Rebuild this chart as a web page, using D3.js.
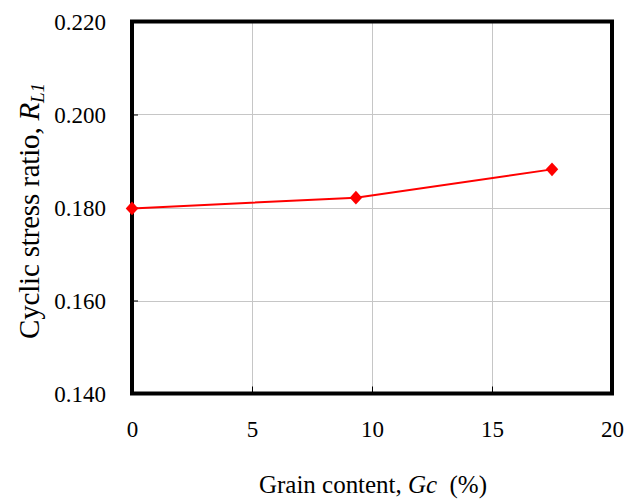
<!DOCTYPE html>
<html>
<head>
<meta charset="utf-8">
<script src="https://cdn.jsdelivr.net/npm/d3@7"></script>
<style>
  html, body { margin: 0; padding: 0; background: #fff; }
  svg { display: block; font-family: "Liberation Serif", "Times New Roman", serif; }
</style>
</head>
<body>
<svg id="chart" width="636" height="499"></svg>
<script>
// Grain content (%) against cyclic stress ratio R_L1
const grainContent = [0, 9.33, 17.5];
const stressRatio = [0.1798, 0.1821, 0.1882];
const xTicks = [0, 5, 10, 15, 20];
const yTicks = [0.140, 0.160, 0.180, 0.200, 0.220];

const svg = d3.select("#chart");
const plot = { left: 132, right: 612, top: 21.5, bottom: 393.5 };
const serif = "'Liberation Serif', 'Times New Roman', serif";

const x = d3.scaleLinear().domain([0, 20]).range([plot.left, plot.right]);
const y = d3.scaleLinear().domain([0.140, 0.220]).range([plot.bottom, plot.top]);

// grid lines
const grid = svg.append("g").attr("stroke", "#c6c6c6").attr("stroke-width", 1);
grid.selectAll(".gx").data(xTicks.slice(1, -1)).join("line")
  .attr("x1", d => Math.round(x(d)) + 0.5).attr("x2", d => Math.round(x(d)) + 0.5)
  .attr("y1", plot.top).attr("y2", plot.bottom);
grid.selectAll(".gy").data(yTicks.slice(1, -1)).join("line")
  .attr("y1", d => Math.round(y(d)) + 0.5).attr("y2", d => Math.round(y(d)) + 0.5)
  .attr("x1", plot.left).attr("x2", plot.right);

// axes with inward ticks
const xAxis = svg.append("g")
  .attr("transform", `translate(0,${plot.bottom})`)
  .call(d3.axisBottom(x).tickValues(xTicks).tickSize(-7).tickPadding(40).tickFormat(d3.format("d")));
const yAxis = svg.append("g")
  .attr("transform", `translate(${plot.left},0)`)
  .call(d3.axisLeft(y).tickValues(yTicks).tickSize(-6).tickPadding(26).tickFormat(d3.format(".3f")));

[xAxis, yAxis].forEach(a => {
  a.attr("font-family", serif);
  a.select(".domain").remove();
  a.selectAll(".tick line").attr("stroke", "#000").attr("stroke-width", 1);
  a.selectAll(".tick text").attr("fill", "#000").attr("font-size", 23)
    .style("font-family", serif);
});
xAxis.selectAll(".tick text").attr("dy", "0.15em");
yAxis.selectAll(".tick text").attr("dy", "0.35em");

// plot frame
svg.append("rect")
  .attr("x", plot.left).attr("y", plot.top)
  .attr("width", plot.right - plot.left).attr("height", plot.bottom - plot.top)
  .attr("fill", "none").attr("stroke", "#000").attr("stroke-width", 4);

// data line and markers
const pts = grainContent.map((g, i) => [g, stressRatio[i]]);
svg.append("path")
  .datum(pts)
  .attr("fill", "none").attr("stroke", "#ff0000").attr("stroke-width", 2)
  .attr("d", d3.line().x(d => x(d[0])).y(d => y(d[1])));
svg.append("g").selectAll("path").data(pts).join("path")
  .attr("transform", d => `translate(${x(d[0])},${y(d[1])}) scale(1,1.1)`)
  .attr("d", d3.symbol(d3.symbolDiamond2, 100))
  .attr("fill", "#ff0000");

// axis titles
const xt = svg.append("text")
  .attr("x", 373).attr("y", 493).attr("text-anchor", "middle")
  .style("font-family", serif).attr("font-size", 25).attr("fill", "#000")
  .attr("textLength", 228).attr("lengthAdjust", "spacing");
xt.append("tspan").text("Grain content, ");
xt.append("tspan").attr("font-style", "italic").text("Gc");
xt.append("tspan").text("\u00a0 (%)");

const yt = svg.append("text")
  .attr("transform", "translate(39,211) rotate(-90)")
  .attr("text-anchor", "middle")
  .style("font-family", serif).attr("font-size", 29).attr("fill", "#000")
  .attr("textLength", 256).attr("lengthAdjust", "spacing");
yt.append("tspan").text("Cyclic stress ratio, ");
yt.append("tspan").attr("font-style", "italic").text("R");
yt.append("tspan").attr("font-style", "italic").attr("font-size", 19).attr("dy", 5).text("L1");
</script>
</body>
</html>
